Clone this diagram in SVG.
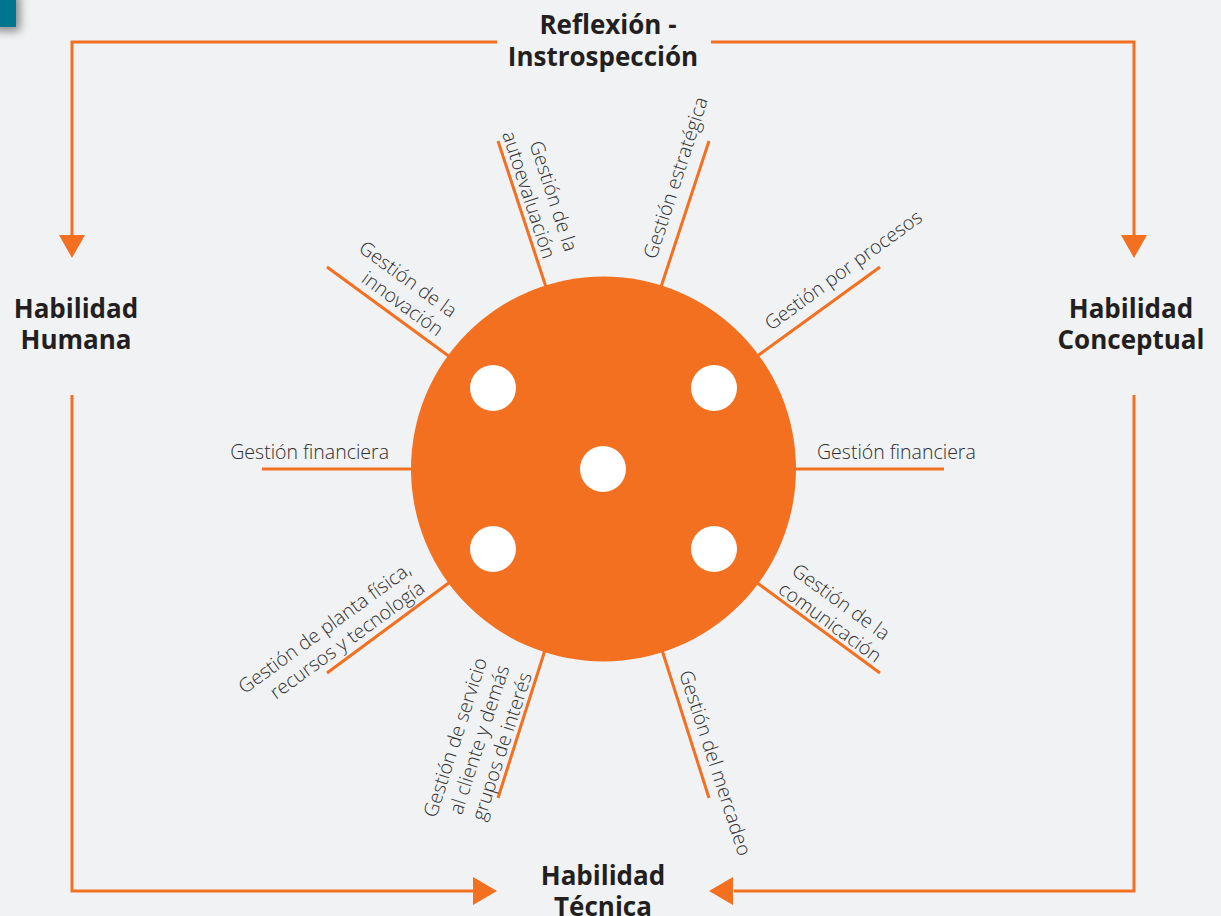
<svg xmlns="http://www.w3.org/2000/svg" width="1221" height="916" viewBox="0 0 1221 916">
<defs>
<style>
.bg{fill:#f1f2f4}
.conn{fill:none;stroke:#f37021;stroke-width:3}
.arr{fill:#f37021}
.spoke{stroke:#f37021;stroke-width:3;fill:none}
.lbl{font-family:"Open Sans","Liberation Sans",sans-serif;font-weight:300;font-size:19.5px;fill:#2e2e2e}
.bold{font-family:"Open Sans","Liberation Sans",sans-serif;font-weight:700;font-size:26px;fill:#231f20;text-anchor:middle}
.dot{fill:#ffffff}
</style>
<filter id="sh" x="-50%" y="-50%" width="250%" height="250%">
<feDropShadow dx="4" dy="4" stdDeviation="5" flood-color="#000" flood-opacity="0.45"/>
</filter>
</defs>
<rect class="bg" x="0" y="0" width="1221" height="916"/>
<rect x="-10" y="-10" width="26" height="37" fill="#04758f" filter="url(#sh)"/>

<g id="connectors">
<path class="conn" d="M497,42 H72 V236"/>
<polygon class="arr" points="59,235 85,235 72,258"/>
<path class="conn" d="M711,42 H1134 V236"/>
<polygon class="arr" points="1121,235 1147,235 1134,258"/>
<path class="conn" d="M72,395 V891 H475"/>
<polygon class="arr" points="473,877 473,905 497,891"/>
<path class="conn" d="M1134,395 V891 H734"/>
<polygon class="arr" points="733,877 733,905 709,891"/>
</g>

<g id="spokes">
<line class="spoke" x1="498" y1="141" x2="546" y2="287"/>
<line class="spoke" x1="709" y1="141" x2="661" y2="287"/>
<line class="spoke" x1="327" y1="267" x2="450" y2="357"/>
<line class="spoke" x1="880" y1="267" x2="756" y2="357"/>
<line class="spoke" x1="262" y1="469" x2="414" y2="469"/>
<line class="spoke" x1="944" y1="469" x2="793" y2="469"/>
<line class="spoke" x1="450" y1="582" x2="327" y2="673"/>
<line class="spoke" x1="756" y1="582" x2="880" y2="673"/>
<line class="spoke" x1="545" y1="650" x2="498" y2="798"/>
<line class="spoke" x1="662" y1="650" x2="709" y2="798"/>
</g>

<g id="hub">
<circle cx="603.5" cy="469" r="192.5" fill="#f37021"/>
<circle class="dot" cx="493" cy="388" r="23"/>
<circle class="dot" cx="714" cy="388" r="23"/>
<circle class="dot" cx="603" cy="469" r="23"/>
<circle class="dot" cx="493" cy="549" r="23"/>
<circle class="dot" cx="714" cy="549" r="23"/>
</g>

<g id="n-autoevaluacion" transform="translate(543,260) rotate(72)">
<text class="lbl" text-anchor="end"><tspan x="0" y="-23">Gestión de la</tspan><tspan x="0" y="0">autoevaluación</tspan></text>
</g>
<g id="n-estrategica" transform="translate(656,260) rotate(-72)">
<text class="lbl" text-anchor="start" x="0" y="0">Gestión estratégica</text>
</g>
<g id="n-innovacion" transform="translate(437,337) rotate(36)">
<text class="lbl" text-anchor="end"><tspan x="0" y="-23">Gestión de la</tspan><tspan x="0" y="0">innovación</tspan></text>
</g>
<g id="n-procesos" transform="translate(771,331) rotate(-36)">
<text class="lbl" text-anchor="start" x="0" y="0">Gestión por procesos</text>
</g>
<g id="n-financiera-izq">
<text class="lbl" text-anchor="end" x="389" y="459">Gestión financiera</text>
</g>
<g id="n-financiera-der">
<text class="lbl" text-anchor="start" x="817" y="459">Gestión financiera</text>
</g>
<g id="n-planta" transform="translate(426,591) rotate(-36)">
<text class="lbl" text-anchor="end"><tspan x="0" y="-23">Gestión de planta física,</tspan><tspan x="0" y="0">recursos y tecnología</tspan></text>
</g>
<g id="n-comunicacion" transform="translate(777,592) rotate(36)">
<text class="lbl" text-anchor="start"><tspan x="0" y="-23">Gestión de la</tspan><tspan x="0" y="0">comunicación</tspan></text>
</g>
<g id="n-servicio" transform="translate(532,675) rotate(-72)">
<text class="lbl" text-anchor="end"><tspan x="0" y="-47">Gestión de servicio</tspan><tspan x="0" y="-23.5">al cliente y demás</tspan><tspan x="0" y="0">grupos de interés</tspan></text>
</g>
<g id="n-mercadeo" transform="translate(679,673) rotate(72)">
<text class="lbl" text-anchor="start" x="0" y="0">Gestión del mercadeo</text>
</g>

<g id="n-reflexion">
<text class="bold"><tspan x="608" y="34">Reflexión -</tspan><tspan x="603" y="66">Instrospección</tspan></text>
</g>
<g id="n-humana">
<text class="bold"><tspan x="76" y="318">Habilidad</tspan><tspan x="76" y="349">Humana</tspan></text>
</g>
<g id="n-conceptual">
<text class="bold"><tspan x="1131" y="318">Habilidad</tspan><tspan x="1131" y="349">Conceptual</tspan></text>
</g>
<g id="n-tecnica">
<text class="bold"><tspan x="603" y="885">Habilidad</tspan><tspan x="603" y="916">Técnica</tspan></text>
</g>
</svg>
